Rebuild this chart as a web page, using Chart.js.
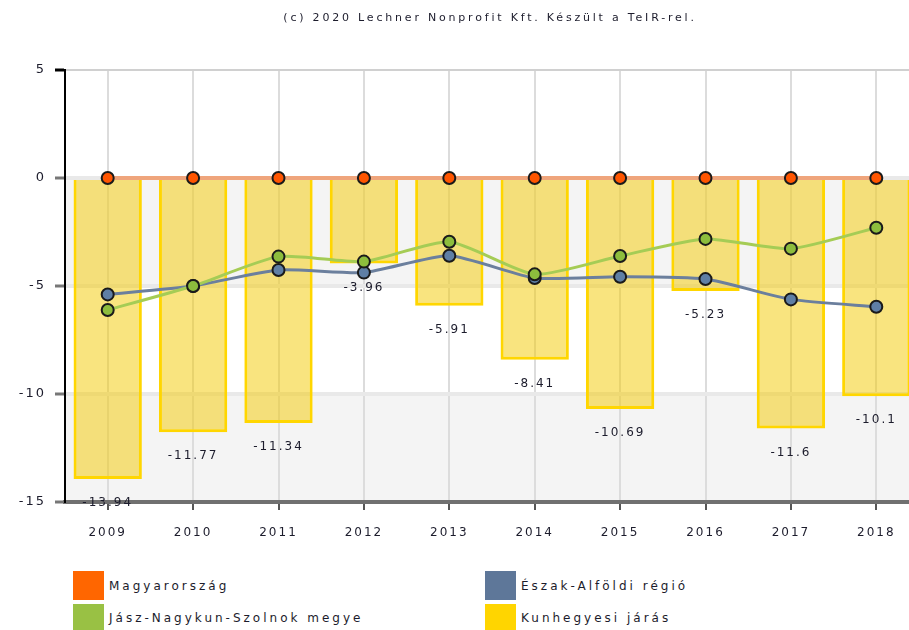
<!DOCTYPE html>
<html>
<head>
<meta charset="utf-8">
<script src="https://cdn.jsdelivr.net/npm/chart.js@4/dist/chart.umd.min.js"></script>
<style>
  html, body { margin:0; padding:0; background:#fff; overflow:hidden; }
  #wrap { position:relative; width:930px; height:630px; font-family:"DejaVu Sans", Verdana, sans-serif; color:#222; }
  #cv { position:absolute; left:0; top:0; }
  .title { position:absolute; top:11px; left:0; width:980px; text-align:center; font-size:11px; letter-spacing:2.8px; color:#1c1c2c; }
  .leg { position:absolute; display:flex; align-items:center; font-size:12px; letter-spacing:3px; color:#1c1c2c; }
  .leg span.box { display:inline-block; width:31px; margin-right:5px; }
</style>
</head>
<body>
<div id="wrap">
  <canvas id="cv" width="927" height="555"></canvas>
  <div class="title">(c) 2020 Lechner Nonprofit Kft. Készült a TeIR-rel.</div>
  <div id="legend"></div>
</div>
<script>
/* adatok */
const evek = ['2009','2010','2011','2012','2013','2014','2015','2016','2017','2018'];
const magyarorszag = [0, 0, 0, 0, 0, 0, 0, 0, 0, 0];
const eszakAlfold = [-5.39, -5.0, -4.26, -4.38, -3.6, -4.63, -4.57, -4.68, -5.62, -5.96];
const jnszMegye = [-6.11, -5.0, -3.64, -3.87, -2.95, -4.46, -3.61, -2.82, -3.27, -2.3];
const kunhegyesi = [-13.94, -11.77, -11.34, -3.96, -5.91, -8.41, -10.69, -5.23, -11.6, -10.1];
const yTicks = [5, 0, -5, -10, -15];

const nevek = ['Magyarország', 'Észak-Alföldi régió', 'Jász-Nagykun-Szolnok megye', 'Kunhegyesi járás'];
const szinek = ['#ff6600', '#5e7799', '#99c144', '#ffd500'];

/* sávos háttér + betűköz */
const hatter = {
  id:'hatter',
  beforeDraw(chart){
    const {ctx, chartArea:a, scales:{y}} = chart;
    ctx.letterSpacing = '2px';
    ctx.save();
    ctx.fillStyle = '#f4f4f4';
    [[0,-5],[-10,-15]].forEach(([t,b])=>{
      const y1 = y.getPixelForValue(t), y2 = y.getPixelForValue(b);
      ctx.fillRect(a.left, y1, a.right-a.left, y2-y1);
    });
    ctx.restore();
  }
};

/* oszlopcímkék */
const oszlopCimke = {
  id:'oszlopCimke',
  afterDatasetsDraw(chart){
    const ctx = chart.ctx;
    const meta = chart.getDatasetMeta(0);
    ctx.save();
    ctx.font = '12px "DejaVu Sans", Verdana, sans-serif';
    ctx.fillStyle = '#1c1c2c';
    ctx.textAlign = 'center';
    ctx.textBaseline = 'middle';
    meta.data.forEach((bar,i)=>{
      ctx.fillText(String(kunhegyesi[i]), bar.x, bar.y + 24);
    });
    ctx.restore();
  }
};

const pont = (fill) => ({pointRadius:6, pointHoverRadius:6, pointBackgroundColor:fill, pointBorderColor:'#1a1a1a', pointBorderWidth:2});

new Chart(document.getElementById('cv'), {
  data:{
    labels:evek,
    datasets:[
      {type:'bar', label:nevek[3], data:kunhegyesi, order:4,
        backgroundColor:'rgba(243,201,0,0.5)', borderColor:'#ffd600', borderWidth:3,
        barPercentage:0.8, categoryPercentage:1},
      {type:'line', label:nevek[0], data:magyarorszag, order:3, borderColor:'#efa57c', borderWidth:4, tension:0.2, ...pont('#ff5500')},
      {type:'line', label:nevek[1], data:eszakAlfold, order:2, borderColor:'#6b7f9d', borderWidth:3, tension:0.2, ...pont('#5f7fa5')},
      {type:'line', label:nevek[2], data:jnszMegye, order:1, borderColor:'#a5cc55', borderWidth:3, tension:0.2, ...pont('#8dbd3d')}
    ]
  },
  options:{
    responsive:false, animation:false,
    layout:{padding:{top:70, left:0, right:0, bottom:0}},
    plugins:{legend:{display:false}, tooltip:{enabled:false}},
    scales:{
      x:{
        offset:true,
        grid:{offset:false, color:'#dcdcdc', lineWidth:2, tickColor:'#555', tickLength:8, tickWidth:2},
        border:{color:'#707070', width:4},
        ticks:{color:'#1c1c2c', font:{family:'"DejaVu Sans", Verdana, sans-serif', size:12}, padding:16, maxRotation:0},
        afterFit(s){ s.height = 53; s.paddingLeft = 0; s.paddingRight = 0; }
      },
      y:{
        min:-15, max:5,
        afterBuildTicks(s){ s.ticks = yTicks.map(v=>({value:v})); },
        grid:{
          color:c=>c.tick && c.tick.value===5 ? '#d0d0d0' : '#e9e9e9',
          lineWidth:c=>c.tick && c.tick.value===5 ? 2 : 4,
          tickColor:c=>c.tick && c.tick.value===5 ? '#000' : '#777',
          tickLength:10, tickWidth:3
        },
        border:{color:'#000', width:2},
        ticks:{color:'#1c1c2c', font:{family:'"DejaVu Sans", Verdana, sans-serif', size:13}, padding:9},
        afterFit(s){ s.width = 65; s.paddingTop = 0; s.paddingBottom = 0; }
      }
    }
  },
  plugins:[hatter, oszlopCimke]
});

/* jelmagyarázat, két oszlopban */
const legPos = [[73,571],[485,571],[73,604],[485,604]];
document.getElementById('legend').innerHTML = legPos.map((p,k)=>
  `<div class="leg" style="left:${p[0]}px;top:${p[1]}px;height:${k<2?29:27}px">`+
  `<span class="box" style="height:100%;background:${szinek[k]}"></span>${nevek[k]}</div>`).join('');
</script>
</body>
</html>
